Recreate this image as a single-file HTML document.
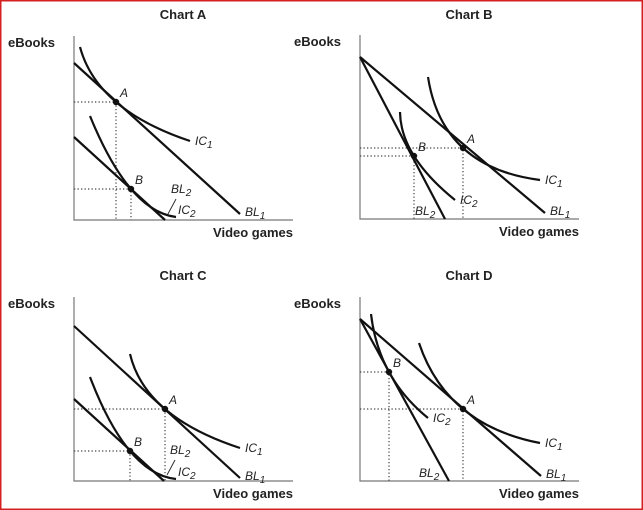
<!DOCTYPE html>
<html><head><meta charset="utf-8"><style>
html,body{margin:0;padding:0;background:#fff;}
svg{display:block;font-family:"Liberation Sans",Arial,sans-serif;}
.t{font-weight:bold;font-size:13px;fill:#222;}
.lb{font-style:italic;font-size:12px;fill:#222;}
</style></head><body>
<svg id="s" width="643" height="510" viewBox="0 0 643 510">
<rect x="0.75" y="0.75" width="641.5" height="508.5" fill="#fff" stroke="#d42020" stroke-width="1.5"/>
</svg>
<script>
// Data (chart units relative to each chart's origin: x right, y up)
const chartTitles = ["Chart A","Chart B","Chart C","Chart D"];
const bl1Lines = [[[0,157],[166,6]],[[0,162],[185,6]],[[0,155],[166,3]],[[0,162],[181,5]]];
const bl2Lines = [[[0,83],[91,0]],[[0,162],[85,0]],[[0,82],[90,0]],[[0,162],[89,0]]];
const ic1Curves = [[[6,173],[42,118],[116,79]],[[68,142],[103,71],[180,39]],[[56,127],[91,72],[166,33]],[[59,138],[103,72],[180,38]]];
const ic2Curves = [[[16,104],[57,31],[102,3]],[[40,107],[54,63],[95,19]],[[16,104],[56,30],[102,2]],[[11,167],[29,109],[68,63]]];
const pointA = [[42,118],[103,71],[91,72],[103,72]];
const pointB = [[57,31],[54,63],[56,30],[29,109]];

const origins = [[74,220],[360,219],[74,481],[360,481]];
const S = document.getElementById('s');
const NS = "http://www.w3.org/2000/svg";
function mk(tag, attrs, parent){const e=document.createElementNS(NS,tag);for(const k in attrs)e.setAttribute(k,attrs[k]);(parent||S).appendChild(e);return e;}
function txt(x,y,s,cls,parent,sub){const t=mk('text',{x:x,y:y,class:cls},parent);t.textContent=s;if(sub){const ts=mk('tspan',{dy:3,'font-size':'10'},t);ts.textContent=sub;}return t;}

for(let i=0;i<4;i++){
  const [ox,oy]=origins[i];
  const X=v=>ox+v, Y=v=>oy-v;
  const g=mk('g',{});
  
  
  const tt=txt(ox+109,i<2?19:280,chartTitles[i],'t',g);tt.setAttribute('text-anchor','middle');
  
  
  const yl=txt(ox-66,oy-173,'eBooks','t',g);
  
  
  const xl=txt(ox+219,oy+17,'Video games','t',g);xl.setAttribute('text-anchor','end');
  
  
  const ax=mk('path',{d:`M${X(0)},${Y(184)}V${Y(0)}H${X(219)}`,stroke:'#777',fill:'none','stroke-width':1.2},g);
  
  
  [[pointA[i],'A'],[pointB[i],'B']].forEach(([p,n])=>{
    const d=mk('path',{d:`M${X(0)},${Y(p[1])}H${X(p[0])}V${Y(0)}`,stroke:'#444',fill:'none','stroke-width':1.2,'stroke-dasharray':'1.3,2.2'},g);
    
    
  });
  const line=(L,name)=>{const e=mk('line',{x1:X(L[0][0]),y1:Y(L[0][1]),x2:X(L[1][0]),y2:Y(L[1][1]),stroke:'#111','stroke-width':2.2},g);
    
    };
  line(bl1Lines[i],'budget-line-bl1');line(bl2Lines[i],'budget-line-bl2');
  const curve=(C,name)=>{const [p0,m,p2]=C;const cx=2*m[0]-(p0[0]+p2[0])/2, cy=2*m[1]-(p0[1]+p2[1])/2;
    const e=mk('path',{d:`M${X(p0[0])},${Y(p0[1])}Q${X(cx)},${Y(cy)} ${X(p2[0])},${Y(p2[1])}`,stroke:'#111',fill:'none','stroke-width':2.2},g);
    
    };
  curve(ic1Curves[i],'indifference-curve-ic1');curve(ic2Curves[i],'indifference-curve-ic2');
  [[pointA[i],'A'],[pointB[i],'B']].forEach(([p,n])=>{
    const c=mk('circle',{cx:X(p[0]),cy:Y(p[1]),r:3.2,fill:'#111'},g);
    
    
    const l=txt(X(p[0])+4,Y(p[1])-5,n,'lb',g);
    
    
  });
  const ic1=ic1Curves[i][2], bl1=bl1Lines[i][1], ic2=ic2Curves[i][2], bl2=bl2Lines[i][1];
  const lab=(x,y,a,b,name)=>{const e=txt(x,y,a,'lb',g,b);};
  lab(X(ic1[0])+5,Y(ic1[1])+4,'IC','1','label-ic1');
  lab(X(bl1[0])+5,Y(bl1[1])+2,'BL','1','label-bl1');
  if(i===0||i===2){
    lab(X(ic2[0])+2,Y(ic2[1])-3,'IC','2','label-ic2');
    lab(X(bl2[0])+6,Y(bl2[1])-27,'BL','2','label-bl2');
    const ld=mk('line',{x1:X(bl2[0])+11,y1:Y(bl2[1])-21,x2:X(bl2[0])+3,y2:Y(bl2[1])-6,stroke:'#333','stroke-width':1},g);
    
    
  } else {
    lab(X(ic2[0])+5,Y(ic2[1])+4,'IC','2','label-ic2');
    lab(X(bl2[0])-30,Y(bl2[1])-4,'BL','2','label-bl2');
  }
}
</script>
</body></html>
